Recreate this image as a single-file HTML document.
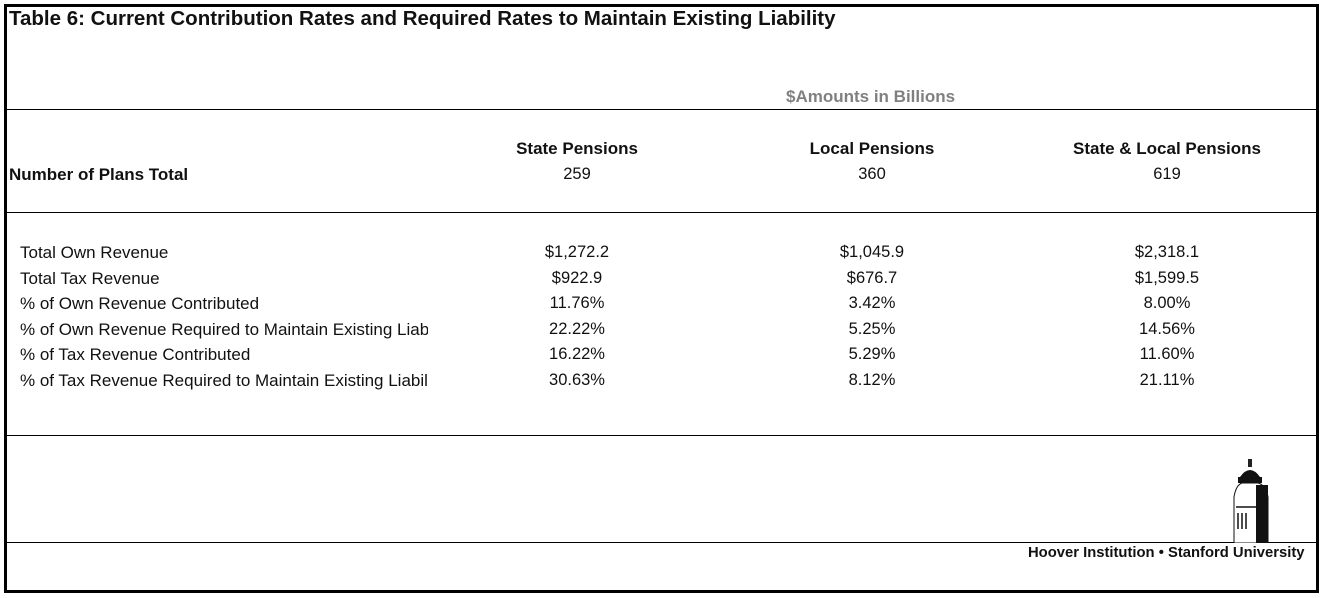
<!DOCTYPE html>
<html><head><meta charset="utf-8"><style>
body{margin:0;width:1321px;height:598px;background:#fff;overflow:hidden;font-family:"Liberation Sans",sans-serif;color:#111}
.a{position:absolute;white-space:nowrap}
.c{position:absolute;width:300px;text-align:center;font-size:16.5px;transform:translateX(-150px)}
.hl{position:absolute;left:5px;width:1311px;height:1px;background:#000}
.lbl{position:absolute;left:20px;width:408px;overflow:hidden;white-space:nowrap;font-size:17px}
</style></head><body>
<div style="position:absolute;left:4px;top:4px;width:1309px;height:583px;border:3px solid #000"></div>
<div class="a" style="left:9px;top:7px;font-size:20.5px;font-weight:bold">Table 6: Current Contribution Rates and Required Rates to Maintain Existing Liability</div>
<div class="a" style="left:786px;top:87px;font-size:17px;font-weight:bold;color:#808080">$Amounts in Billions</div>
<div class="hl" style="top:109px"></div>
<div class="hl" style="top:212px"></div>
<div class="hl" style="top:435px"></div>
<div class="hl" style="top:542px"></div>
<div class="c" style="left:577px;top:139px;font-weight:bold;font-size:17px">State Pensions</div>
<div class="c" style="left:872px;top:139px;font-weight:bold;font-size:17px">Local Pensions</div>
<div class="c" style="left:1167px;top:139px;font-weight:bold;font-size:17px">State &amp; Local Pensions</div>
<div class="a" style="left:9px;top:165px;font-size:17px;font-weight:bold">Number of Plans Total</div>
<div class="c" style="left:577px;top:165px">259</div>
<div class="c" style="left:872px;top:165px">360</div>
<div class="c" style="left:1167px;top:165px">619</div>
<div id="rows"></div>
<svg class="a" style="left:1228px;top:457px" width="46" height="86" viewBox="0 0 46 86">
<rect x="20" y="2" width="4" height="8" fill="#222"/>
<path d="M12 20 Q22 6 32 20 Z" fill="#111"/>
<rect x="10" y="20" width="24" height="6" fill="#111"/>
<path d="M6 86 L6 40 Q8 28 14 26 L30 26 Q38 28 40 40 L40 86 Z" fill="#fff" stroke="#111" stroke-width="1"/>
<rect x="28" y="28" width="12" height="58" fill="#111"/>
<path d="M8 50 h20 M10 56 v16 M14 56 v16 M18 56 v16" stroke="#111" stroke-width="1.5"/>
</svg>
<div class="a" style="left:1028px;top:545px;font-size:14.8px;font-weight:bold">Hoover Institution • Stanford University</div>
<script>
const labels=["Total Own Revenue","Total Tax Revenue","% of Own Revenue Contributed","% of Own Revenue Required to Maintain Existing Liability","% of Tax Revenue Contributed","% of Tax Revenue Required to Maintain Existing Liability"];
const stateVals=["$1,272.2","$922.9","11.76%","22.22%","16.22%","30.63%"];
const localVals=["$1,045.9","$676.7","3.42%","5.25%","5.29%","8.12%"];
const totalVals=["$2,318.1","$1,599.5","8.00%","14.56%","11.60%","21.11%"];
const root=document.getElementById('rows');
labels.forEach((l,i)=>{
  const y=243+i*25.6;
  const d=document.createElement('div');d.className='lbl';d.style.top=y+'px';d.textContent=l;
  
  
  root.appendChild(d);
  [[stateVals,577],[localVals,872],[totalVals,1167]].forEach(([arr,x])=>{
    const c=document.createElement('div');c.className='c';c.style.left=x+'px';c.style.top=y+'px';c.textContent=arr[i];
    
    
    root.appendChild(c);
  });
});
</script>
</body></html>
